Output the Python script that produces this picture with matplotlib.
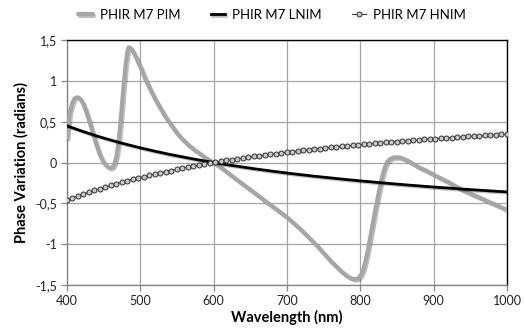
import numpy as np
import matplotlib
matplotlib.use("Agg")
import matplotlib.pyplot as plt
import matplotlib.patheffects as pe
from matplotlib.ticker import FixedLocator, FuncFormatter

plt.rcParams['font.family'] = ['Lato', 'DejaVu Sans']

# --- PIM curve ---
pim_wl = [400, 402, 404, 407, 410, 414, 418, 422, 426, 430, 435, 440, 445, 450,
          455, 459, 462, 465, 468, 471, 474, 477, 480, 482, 484, 487, 490, 494,
          498, 502, 506, 510, 515, 520, 527, 535, 542, 550, 558, 565, 573, 581,
          590, 600, 610, 620, 630, 645, 657, 670, 685, 700, 710, 720, 730, 740,
          750, 760, 768, 775, 782, 788, 793, 797, 800, 803, 806, 809, 812, 816,
          820, 824, 828, 832, 836, 840, 845, 851, 858, 867, 880, 890, 900, 920,
          940, 960, 980, 1000]
pim_val = [0.30, 0.48, 0.62, 0.72, 0.78, 0.80, 0.78, 0.72, 0.63, 0.52, 0.37, 0.22,
           0.09, 0.00, -0.05, -0.07, -0.06, -0.01, 0.10, 0.30, 0.60, 0.92, 1.20,
           1.34, 1.41, 1.40, 1.36, 1.29, 1.21, 1.13, 1.04, 0.96, 0.87, 0.78, 0.67,
           0.55, 0.46, 0.36, 0.28, 0.22, 0.16, 0.11, 0.05, 0.00, -0.06, -0.13,
           -0.20, -0.30, -0.38, -0.47, -0.57, -0.67, -0.75, -0.83, -0.92, -1.01,
           -1.11, -1.21, -1.28, -1.34, -1.39, -1.42, -1.43, -1.42, -1.39, -1.34,
           -1.25, -1.13, -0.99, -0.80, -0.60, -0.42, -0.24, -0.10, 0.00, 0.04,
           0.06, 0.065, 0.05, 0.01, -0.06, -0.10, -0.15, -0.24, -0.34, -0.42,
           -0.50, -0.58]

# --- LNIM / HNIM curves, sampled every 7.5 nm ---
wl = np.arange(400, 1000.1, 7.5)
lnim = [0.450, 0.425, 0.401, 0.378, 0.356, 0.334, 0.313, 0.293, 0.274, 0.255,
        0.237, 0.219, 0.202, 0.185, 0.169, 0.154, 0.138, 0.124, 0.109, 0.095,
        0.082, 0.069, 0.056, 0.043, 0.031, 0.019, 0.008, -0.004, -0.015, -0.026,
        -0.036, -0.046, -0.056, -0.066, -0.076, -0.085, -0.094, -0.103, -0.112,
        -0.120, -0.129, -0.137, -0.145, -0.153, -0.160, -0.168, -0.175, -0.182,
        -0.189, -0.196, -0.203, -0.210, -0.216, -0.223, -0.229, -0.235, -0.241,
        -0.247, -0.253, -0.259, -0.265, -0.270, -0.276, -0.281, -0.286, -0.292,
        -0.297, -0.302, -0.307, -0.311, -0.316, -0.321, -0.326, -0.330, -0.335,
        -0.339, -0.343, -0.348, -0.352, -0.356, -0.360]
hnim = [-0.460, -0.434, -0.410, -0.386, -0.363, -0.341, -0.320, -0.299, -0.279,
        -0.260, -0.242, -0.224, -0.206, -0.189, -0.173, -0.157, -0.141, -0.126,
        -0.112, -0.098, -0.084, -0.070, -0.057, -0.044, -0.032, -0.020, -0.008,
        0.004, 0.015, 0.025, 0.035, 0.045, 0.055, 0.065, 0.074, 0.083, 0.092,
        0.101, 0.109, 0.117, 0.126, 0.134, 0.141, 0.149, 0.156, 0.164, 0.171,
        0.177, 0.184, 0.191, 0.197, 0.204, 0.210, 0.216, 0.222, 0.228, 0.234,
        0.240, 0.245, 0.251, 0.256, 0.262, 0.267, 0.272, 0.277, 0.282, 0.287,
        0.292, 0.296, 0.301, 0.306, 0.310, 0.314, 0.319, 0.323, 0.327, 0.331,
        0.335, 0.339, 0.343, 0.347]

xticks = [400, 500, 600, 700, 800, 900, 1000]
yticks = [-1.5, -1, -0.5, 0, 0.5, 1, 1.5]

fig = plt.figure(figsize=(5.25, 3.33), dpi=100)
ax = fig.add_axes([0.1276, 0.1441, 0.8381, 0.7358])

shadow = [pe.SimpleLineShadow(offset=(1, -1), alpha=0.25), pe.Normal()]

ax.plot(pim_wl, pim_val, color='#A6A6A6', lw=3.0, label='PHIR M7 PIM',
        solid_capstyle='round', solid_joinstyle='round', path_effects=shadow, zorder=3)
ax.plot(wl, lnim, color='black', lw=2.0, label='PHIR M7 LNIM',
        path_effects=shadow, zorder=4)
ax.plot(wl, hnim, color='#404040', lw=0.8, marker='o', ms=3.6,
        mfc='#C8C8C8', mec='#303030', mew=0.7, label='PHIR M7 HNIM', zorder=5)

ax.set_xlim(400, 1000)
ax.set_ylim(-1.5, 1.5)
ax.xaxis.set_major_locator(FixedLocator(xticks))
ax.yaxis.set_major_locator(FixedLocator(yticks))
ax.yaxis.set_major_formatter(FuncFormatter(lambda v, p: ('%g' % v).replace('.', ',')))
ax.grid(True, color='#A6A6A6', lw=0.9)
ax.set_axisbelow(True)

for s in ['top', 'right']:
    ax.spines[s].set_color('black')
    ax.spines[s].set_linewidth(1.0)
for s in ['left', 'bottom']:
    ax.spines[s].set_color('#868686')
    ax.spines[s].set_linewidth(1.0)
ax.tick_params(axis='both', direction='out', length=4, width=0.9, color='#868686',
               labelsize=9, labelcolor='#222222', pad=3)

ax.set_xlabel('Wavelength (nm)', fontsize=10.5, fontweight='bold', labelpad=2)
ax.set_ylabel('Phase Variation (radians)', fontsize=10.5, fontweight='bold', labelpad=5)

ax.legend(loc='lower center', bbox_to_anchor=(0.466, 1.03), ncol=3, frameon=False,
          fontsize=9.5, handlelength=1.1, columnspacing=2.3, handletextpad=0.5)

fig.savefig('out.png', dpi=100)
